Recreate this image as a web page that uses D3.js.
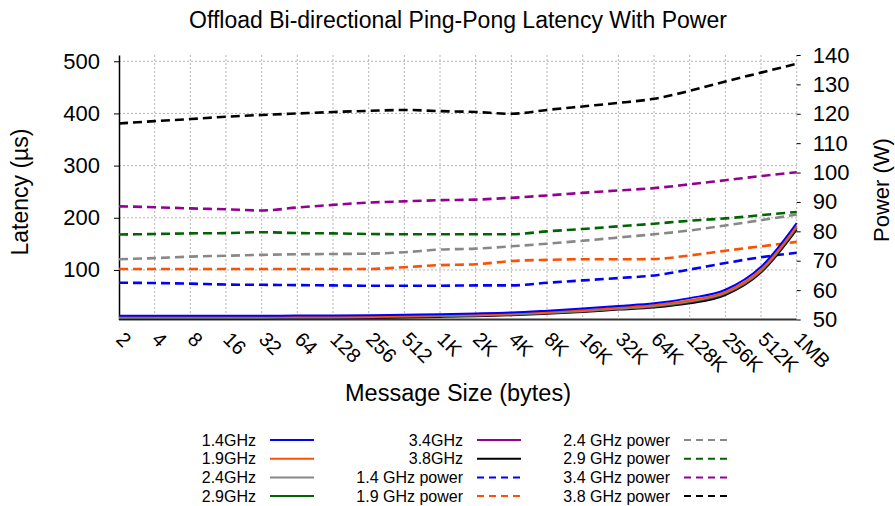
<!DOCTYPE html>
<html>
<head>
<meta charset="utf-8">
<script src="https://cdn.jsdelivr.net/npm/d3@7/dist/d3.min.js"></script>
<style>
  body { margin: 0; background: #fff; }
  svg { font-family: "Liberation Sans", Arial, sans-serif; }
</style>
</head>
<body>
<div id="chart"></div>
<script>
// message sizes (x categories)
var sizes = ["2", "4", "8", "16", "32", "64", "128", "256", "512", "1K", "2K", "4K",
  "8K", "16K", "32K", "64K", "128K", "256K", "512K", "1MB"];

// latency in microseconds, left axis
var lat14 = [12, 12, 12, 12, 12, 12.5, 12.5, 13, 14, 15, 16.5, 18.5, 22, 26, 31, 36, 46, 62, 106, 190];
var lat19 = [10, 10, 10, 10, 10, 10.5, 10.5, 11, 12, 13, 14.5, 16.5, 19.5, 23, 28, 33, 42, 58, 101, 185];
var lat24 = [9, 9, 9, 9, 9, 9.5, 9.5, 10, 11, 12, 13, 15, 18, 21.5, 26, 31, 40, 56, 99, 183];
var lat29 = [8.5, 8.5, 8.5, 8.5, 8.5, 9, 9, 9.5, 10.5, 11.5, 12.5, 14.5, 17.5, 21, 25.5, 30, 39, 55, 98, 181];
var lat34 = [8, 8, 8, 8, 8, 8.5, 8.5, 9, 10, 11, 12, 14, 17, 20.5, 25, 29.5, 38, 54, 97, 180];
var lat38 = [7, 7, 7, 7, 7, 7.5, 7.5, 8, 9, 10, 11, 13, 16, 19.5, 24, 28, 36, 52, 95, 177];

// power in watts, right axis
var pow14 = [62.5, 62.4, 62.2, 61.9, 61.8, 61.7, 61.6, 61.5, 61.5, 61.5, 61.6, 61.6, 62.5, 63.3, 64.1, 65, 67, 69.2, 71.2, 72.7];
var pow19 = [67.2, 67.2, 67.2, 67.2, 67.2, 67.2, 67.2, 67.2, 67.8, 68.5, 68.8, 69.9, 70.3, 70.5, 70.5, 70.6, 71.8, 73.4, 74.9, 76.4];
var pow24 = [70.5, 70.9, 71.4, 71.7, 72, 72.2, 72.3, 72.4, 72.9, 73.8, 74.1, 74.9, 75.8, 76.8, 77.9, 79, 80.3, 82, 83.8, 85.7];
var pow29 = [78.9, 79.1, 79.3, 79.4, 79.7, 79.4, 79.3, 79.1, 79, 79, 79, 79, 80, 80.8, 81.7, 82.6, 83.6, 84.4, 85.5, 86.6];
var pow34 = [88.5, 88.2, 87.8, 87.5, 87.1, 88.1, 89, 89.8, 90.2, 90.6, 90.8, 91.4, 92.2, 93.1, 93.9, 94.7, 96, 97.4, 98.8, 100.1];
var pow38 = [116.7, 117.5, 118.2, 119, 119.6, 120.1, 120.6, 121, 121.3, 120.9, 120.6, 120, 121.3, 122.5, 123.7, 125.1, 127.8, 131, 134, 137];

var latTicks = [100, 200, 300, 400, 500];
var powTicks = [50, 60, 70, 80, 90, 100, 110, 120, 130, 140];

var latNames = ["1.4GHz", "1.9GHz", "2.4GHz", "2.9GHz", "3.4GHz", "3.8GHz"];
var powNames = ["1.4 GHz power", "1.9 GHz power", "2.4 GHz power", "2.9 GHz power", "3.4 GHz power", "3.8 GHz power"];
var colors = ["#0000ff", "#ff4f00", "#888888", "#006400", "#940094", "#000000"];

var width = 895, height = 506;
var plot = { left: 119, right: 796.7, top: 55, bottom: 319.5 };

var svg = d3.select("#chart").append("svg")
  .attr("width", width)
  .attr("height", height);
svg.append("rect").attr("width", width).attr("height", height).attr("fill", "#fff");

var x = d3.scalePoint().domain(sizes).range([plot.left, plot.right]);
var yL = d3.scaleLinear().domain([5, 512]).range([plot.bottom, plot.top]);
var yR = d3.scaleLinear().domain([50, 140]).range([plot.bottom, plot.top]);

// grid
var grid = svg.append("g").attr("class", "grid")
  .attr("stroke", "#b4b4b4").attr("stroke-width", 1).attr("stroke-dasharray", "2,2");
grid.selectAll(".h").data(latTicks).enter().append("line")
  .attr("x1", plot.left).attr("x2", plot.right)
  .attr("y1", function(d) { return yL(d); }).attr("y2", function(d) { return yL(d); });
grid.selectAll(".v").data(sizes.slice(1)).enter().append("line")
  .attr("y1", plot.top).attr("y2", plot.bottom)
  .attr("x1", function(d) { return x(d); }).attr("x2", function(d) { return x(d); });

// axes
var leftAxis = svg.append("g")
  .attr("transform", "translate(" + plot.left + ",0)")
  .call(d3.axisLeft(yL).tickValues(latTicks).tickSize(5).tickSizeOuter(0).tickPadding(14));
leftAxis.select(".domain").attr("stroke-width", 1.5);
leftAxis.selectAll("text").attr("font-size", "22px").attr("fill", "#000").attr("font-family", null);

var rightAxis = svg.append("g")
  .attr("transform", "translate(" + plot.right + ",0)")
  .call(d3.axisRight(yR).tickValues(powTicks).tickSize(4).tickSizeOuter(0).tickPadding(12));
rightAxis.select(".domain").remove();
rightAxis.selectAll("text").attr("font-size", "22px").attr("fill", "#000").attr("font-family", null);

// bottom axis line
svg.append("line")
  .attr("x1", plot.left).attr("x2", plot.right)
  .attr("y1", plot.bottom).attr("y2", plot.bottom)
  .attr("stroke", "#333").attr("stroke-width", 2);

// rotated x tick labels
svg.append("g").selectAll("text").data(sizes).enter().append("text")
  .attr("transform", function(d) { return "translate(" + (x(d) + 1) + "," + (plot.bottom + 16) + ") rotate(45)"; })
  .attr("dy", "0.35em")
  .attr("font-size", "20px")
  .text(function(d) { return d; });

// lines
var latSeries = [lat14, lat19, lat24, lat29, lat34, lat38];
var powSeries = [pow14, pow19, pow24, pow29, pow34, pow38];

var latLine = d3.line()
  .x(function(d, i) { return x(sizes[i]); })
  .y(function(d) { return yL(d); })
  .curve(d3.curveMonotoneX);
var powLine = d3.line()
  .x(function(d, i) { return x(sizes[i]); })
  .y(function(d) { return yR(d); })
  .curve(d3.curveMonotoneX);

svg.append("g").selectAll("path").data(powSeries).enter().append("path")
  .attr("d", powLine)
  .attr("fill", "none")
  .attr("stroke", function(d, i) { return colors[i]; })
  .attr("stroke-width", 2.6)
  .attr("stroke-dasharray", "9,5");

svg.append("g").selectAll("path").data(latSeries.slice().reverse()).enter().append("path")
  .attr("d", latLine)
  .attr("fill", "none")
  .attr("stroke", function(d, i) { return colors[5 - i]; })
  .attr("stroke-width", 2);

// titles
svg.append("text").attr("x", 458).attr("y", 28).attr("text-anchor", "middle")
  .attr("font-size", "23px").text("Offload Bi-directional Ping-Pong Latency With Power");
svg.append("text").attr("x", 458).attr("y", 401).attr("text-anchor", "middle")
  .attr("font-size", "23.5px").text("Message Size (bytes)");
svg.append("text").attr("transform", "translate(28,192) rotate(-90)").attr("text-anchor", "middle")
  .attr("font-size", "23px").text("Latency (µs)");
svg.append("text").attr("transform", "translate(889,190) rotate(-90)").attr("text-anchor", "middle")
  .attr("font-size", "22px").text("Power (W)");

// legend, 3 columns x 4 rows
var legendItems = latNames.map(function(n, i) { return { name: n, color: colors[i], dash: false }; })
  .concat(powNames.map(function(n, i) { return { name: n, color: colors[i], dash: true }; }));
var colRight = [256, 463, 670];
var legend = svg.append("g").selectAll("g").data(legendItems).enter().append("g")
  .attr("transform", function(d, i) {
    return "translate(" + colRight[Math.floor(i / 4)] + "," + (440 + (i % 4) * 18.7) + ")";
  });
legend.append("text")
  .attr("text-anchor", "end").attr("dy", "0.35em").attr("font-size", "16px")
  .text(function(d) { return d.name; });
legend.append("line")
  .attr("x1", 14).attr("x2", 58).attr("y1", 0).attr("y2", 0)
  .attr("stroke", function(d) { return d.color; })
  .attr("stroke-width", 2)
  .attr("stroke-dasharray", function(d) { return d.dash ? "7,5" : null; });
</script>
</body>
</html>
